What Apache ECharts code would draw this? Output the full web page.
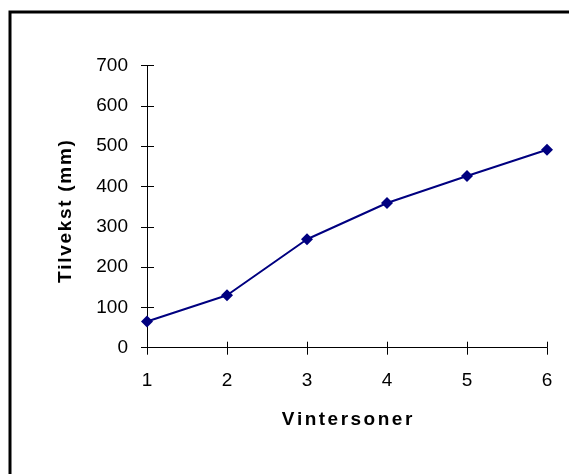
<!DOCTYPE html>
<html>
<head>
<meta charset="utf-8">
<script src="https://cdn.jsdelivr.net/npm/echarts@6/dist/echarts.min.js"></script>
<style>
  html, body { margin: 0; padding: 0; background: #fff; }
  #chart { width: 569px; height: 474px; }
</style>
</head>
<body>
<div id="chart"></div>
<script>
// Growth per winter zone
const zones = ['1', '2', '3', '4', '5', '6'];
const growth = [65, 130, 269, 359, 426, 491];
const yTicks = { min: 0, max: 700, interval: 100 };
const xTitle = 'Vintersoner';
const yTitle = 'Tilvekst (mm)';

const font = 'Liberation Sans, Arial, sans-serif';
const chart = echarts.init(document.getElementById('chart'), null, { renderer: 'canvas' });

// Tracked (letter-spaced) bold title: each character is a rich-text run with side padding;
// the last run may carry extra trailing space to nudge the title along its axis
function tracked(str) {
  const chars = str.split('');
  return chars.map((ch, i) => '{' + (i === chars.length - 1 ? 'e' : 'c') + '|' + ch + '}').join('');
}
function titleStyle(gap, tail) {
  const base = { fontFamily: font, fontSize: 19, fontWeight: 'bold', color: '#000' };
  return Object.assign({}, base, {
    rich: {
      c: Object.assign({}, base, { padding: [0, gap / 2] }),
      e: Object.assign({}, base, { padding: [0, gap / 2 + tail, 0, gap / 2] })
    }
  });
}

const gridBox = { left: 147, right: 22, top: 65.5, bottom: 126.3 };

chart.setOption({
  animation: false,
  backgroundColor: '#ffffff',
  graphic: [{
    type: 'polyline',
    shape: { points: [[10, 474], [10, 12], [569, 12]] },
    style: { stroke: '#000', lineWidth: 3, fill: null },
    silent: true
  }],
  grid: gridBox,
  xAxis: [{
    type: 'category',
    data: zones,
    boundaryGap: false,
    name: tracked(xTitle),
    nameLocation: 'middle',
    nameGap: 63,
    nameTextStyle: titleStyle(2.5, 0),
    axisLine: { lineStyle: { color: '#000', width: 1 } },
    axisTick: { show: true, length: 7, lineStyle: { color: '#000' } },
    axisLabel: { fontFamily: font, fontSize: 19, color: '#000', margin: 24 },
    splitLine: { show: false }
  }, {
    type: 'category',
    data: zones,
    boundaryGap: false,
    position: 'bottom',
    axisLine: { show: false },
    axisTick: { show: true, inside: true, length: 6, lineStyle: { color: '#000' } },
    axisLabel: { show: false },
    splitLine: { show: false }
  }],
  yAxis: [{
    type: 'value',
    min: yTicks.min,
    max: yTicks.max,
    interval: yTicks.interval,
    name: tracked(yTitle),
    nameLocation: 'middle',
    nameGap: 72,
    nameRotate: 90,
    nameTextStyle: titleStyle(1.7, 10),
    axisLine: { show: true, lineStyle: { color: '#000', width: 1 } },
    axisTick: { show: true, length: 6, lineStyle: { color: '#000' } },
    axisLabel: { fontFamily: font, fontSize: 19, color: '#000', margin: 19 },
    splitLine: { show: false }
  }, {
    type: 'value',
    min: yTicks.min,
    max: yTicks.max,
    interval: yTicks.interval,
    position: 'left',
    axisLine: { show: false },
    axisTick: { show: true, inside: true, length: 7, lineStyle: { color: '#000' } },
    axisLabel: { show: false },
    splitLine: { show: false }
  }],
  series: [{
    type: 'line',
    data: growth,
    symbol: 'diamond',
    symbolSize: 12,
    lineStyle: { color: '#000080', width: 2 },
    itemStyle: { color: '#000080' }
  }]
});
</script>
</body>
</html>
